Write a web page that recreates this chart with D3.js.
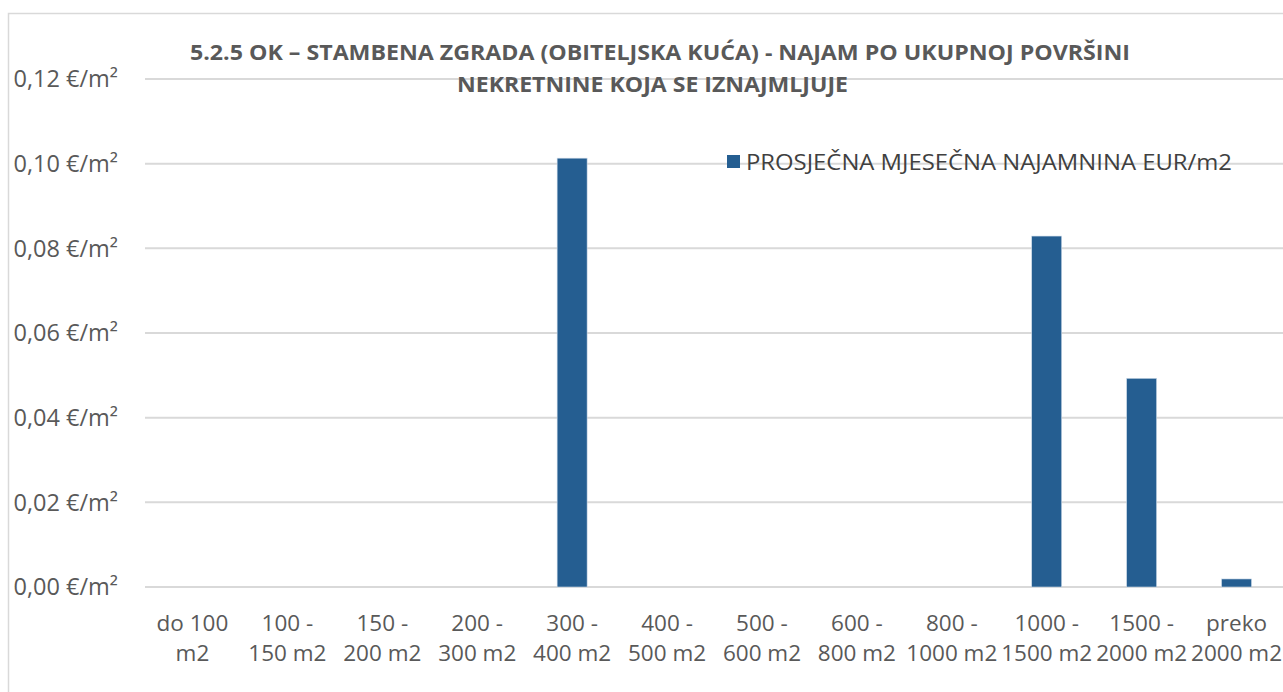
<!DOCTYPE html>
<html><head><meta charset="utf-8">
<script src="https://cdn.jsdelivr.net/npm/d3@7"></script>
<style>
html,body{margin:0;padding:0;background:#fff;}
svg{display:block;}
text{font-family:"Open Sans",sans-serif;}
</style></head>
<body>
<svg id="c" width="1283" height="692"></svg>
<script>
const categoriesLine1 = ["do 100","100 -","150 -","200 -","300 -","400 -","500 -","600 -","800 -","1000 -","1500 -","preko"];
const categoriesLine2 = ["m2","150 m2","200 m2","300 m2","400 m2","500 m2","600 m2","800 m2","1000 m2","1500 m2","2000 m2","2000 m2"];
const categories = categoriesLine1.map((d,i)=>d+" "+categoriesLine2[i]);
const values = [0,0,0,0,0.1013,0,0,0,0,0.0829,0.0493,0.0019];
const yTicks = [0,0.02,0.04,0.06,0.08,0.10,0.12];
const titleLines = ["5.2.5 OK – STAMBENA ZGRADA (OBITELJSKA KUĆA) - NAJAM PO UKUPNOJ POVRŠINI","NEKRETNINE KOJA SE IZNAJMLJUJE"];
const seriesName = "PROSJEČNA MJESEČNA NAJAMNINA EUR/m2";

(function(){
const svg = d3.select("#c");
svg.append("rect").attr("x",8.5).attr("y",13.5).attr("width",1290).attr("height",700)
  .attr("fill","none").attr("stroke","#d9d9d9").attr("stroke-width",1.5);

const pL=145, pR=1284, pT=79, pB=587;
const x = d3.scaleBand().domain(categories).range([pL,pR]).paddingInner(0.684).paddingOuter(0.342);
const y = d3.scaleLinear().domain([0,0.12]).range([pB,pT]);

svg.append("g").selectAll("line").data(yTicks).join("line")
  .attr("x1",pL).attr("x2",pR).attr("y1",d=>y(d)).attr("y2",d=>y(d))
  .attr("stroke","#d9d9d9").attr("stroke-width",2);

const fmt = d => d3.format(".2f")(d).replace(".",",")+" €/m²";
svg.append("g").selectAll("text").data(yTicks).join("text")
  .attr("x",118).attr("y",d=>y(d)).attr("dy","0.36em").attr("text-anchor","end")
  .attr("font-size",23.5).attr("fill","#595959").text(fmt);

svg.append("g").selectAll("rect").data(values.map((v,i)=>({c:categories[i],v})).filter(d=>d.v>0)).join("rect")
  .attr("x",d=>x(d.c)).attr("width",x.bandwidth())
  .attr("y",d=>y(d.v)).attr("height",d=>y(0)-y(d.v))
  .attr("fill","#255E91").attr("stroke","#cfdcea").attr("stroke-width",0.6);

const xl = svg.append("g").selectAll("text").data(categories).join("text")
  .attr("text-anchor","middle").attr("font-size",22.5).attr("fill","#595959")
  .attr("transform",d=>`translate(${x(d)+x.bandwidth()/2},0)`);
xl.append("tspan").attr("x",0).attr("y",631).text((d,i)=>categoriesLine1[i]);
xl.append("tspan").attr("x",0).attr("y",661).text((d,i)=>categoriesLine2[i]);

svg.append("text").attr("x",660).attr("y",60).attr("text-anchor","middle")
  .attr("font-size",22).attr("font-weight","bold").attr("fill","#595959")
  .attr("textLength",940).attr("lengthAdjust","spacingAndGlyphs").text(titleLines[0]);
svg.append("text").attr("x",652.5).attr("y",92).attr("text-anchor","middle")
  .attr("font-size",22).attr("font-weight","bold").attr("fill","#595959")
  .attr("textLength",391).attr("lengthAdjust","spacingAndGlyphs").text(titleLines[1]);

svg.append("rect").attr("x",727).attr("y",155).attr("width",13).attr("height",13).attr("fill","#255E91");
svg.append("text").attr("x",746).attr("y",162).attr("dy","0.36em")
  .attr("font-size",22).attr("fill","#404040")
  .attr("textLength",486).attr("lengthAdjust","spacingAndGlyphs").text(seriesName);
})();
</script>
</body></html>
